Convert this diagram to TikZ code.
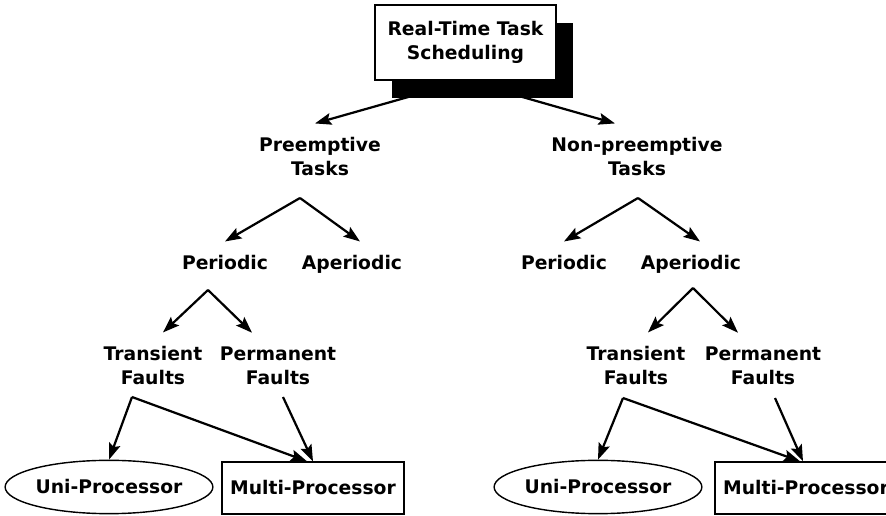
\documentclass[tikz,border=0pt]{standalone}
\usepackage{fontspec}
\setmainfont{DejaVu Sans}
\usetikzlibrary{arrows.meta,calc,shapes.geometric,shadows}

\begin{document}
\begin{tikzpicture}[x=0.03cm, y=-0.03cm,
    every node/.style={font=\bfseries\fontsize{16}{20.5}\selectfont, align=center},
    lbl/.style={inner xsep=2pt, inner ysep=12pt},
    arr/.style={line width=1.9pt, -{Stealth[length=14pt,width=10pt,inset=2.5pt]}},
    procbox/.style={draw, line width=1.2pt, minimum width=5.46cm, minimum height=1.56cm, inner sep=0pt},
    unibox/.style={draw, ellipse, line width=1.2pt, minimum width=5.91cm, minimum height=1.6cm, inner sep=0pt}]
  \clip (0,0) rectangle (886,516);
  \node[draw, fill=white, line width=1.3pt, minimum width=5.43cm, minimum height=2.25cm,
        drop shadow={shadow xshift=0.51cm, shadow yshift=-0.54cm, fill=black, opacity=1}]
        (root) at (465.5,42.5) {Real-Time Task\\Scheduling};

  \node[lbl] (pre) at (320,157) {Preemptive\\Tasks};
  \node[lbl] (non) at (637,157) {Non-preemptive\\Tasks};
  \node[lbl, anchor=base] (per1) at (225,270) {Periodic};
  \node[lbl, anchor=base] (aper1) at (352,270) {Aperiodic};
  \node[lbl, anchor=base] (per2) at (564,270) {Periodic};
  \node[lbl, anchor=base] (aper2) at (691,270) {Aperiodic};
  \node[lbl] (trans1) at (153,366) {Transient\\Faults};
  \node[lbl] (perm1) at (278,366) {Permanent\\Faults};
  \node[lbl] (trans2) at (636,366) {Transient\\Faults};
  \node[lbl] (perm2) at (763,366) {Permanent\\Faults};
  \node[unibox] (uni1) at (109,487) {Uni-Processor};
  \node[procbox] (multi1) at (313,488) {Multi-Processor};
  \node[unibox] (uni2) at (598,487) {Uni-Processor};
  \node[procbox] (multi2) at (806,488) {Multi-Processor};

  \coordinate (pre-j) at (300,198);
  \coordinate (non-j) at (638,198);
  \coordinate (per1-j) at (208,290);
  \coordinate (aper2-j) at (693,288);
  \coordinate (trans1-j) at (132,397);
  \coordinate (perm1-j) at (283,397);
  \coordinate (trans2-j) at (623,398);
  \coordinate (perm2-j) at (775,398);

  \draw[arr] (root.south) -- ($(pre.north)+(-5,0)$);
  \draw[arr] (root.south) -- ($(non.north)+(-22,0)$);
  \draw[arr] (pre-j) -- (per1.north);
  \draw[arr] (pre-j) -- ($(aper1.north)+(8,0)$);
  \draw[arr] (non-j) -- (per2.north);
  \draw[arr] (non-j) -- ($(aper2.north)+(9,0)$);
  \draw[arr] (per1-j) -- ($(trans1.north)+(10,0)$);
  \draw[arr] (per1-j) -- ($(perm1.north)+(-26,0)$);
  \draw[arr] (aper2-j) -- ($(trans2.north)+(12,0)$);
  \draw[arr] (aper2-j) -- ($(perm2.north)+(-25,0)$);
  \draw[arr] (trans1-j) -- (uni1.north);
  \draw[arr] (trans1-j) -- ($(multi1.north)+(-6,0)$);
  \draw[arr] (perm1-j) -- (multi1.north);
  \draw[arr] (trans2-j) -- (uni2.north);
  \draw[arr] (trans2-j) -- ($(multi2.north)+(-6,0)$);
  \draw[arr] (perm2-j) -- ($(multi2.north)+(-3,0)$);
\end{tikzpicture}
\end{document}
